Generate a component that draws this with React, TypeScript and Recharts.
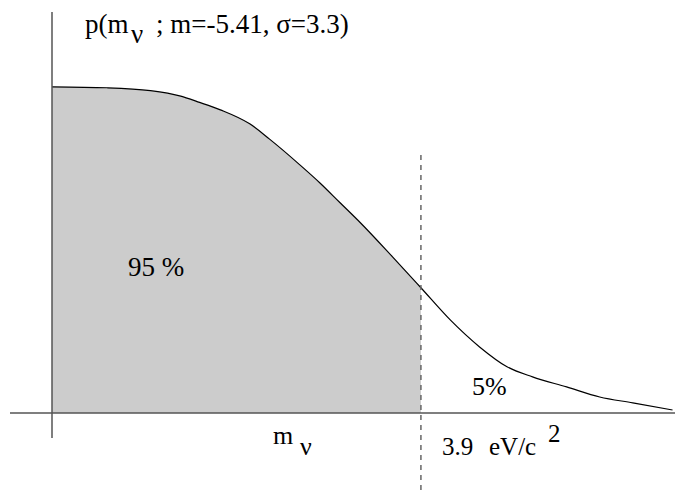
import { ComposedChart, Area, Line, XAxis, YAxis, ReferenceLine } from 'recharts';

// neutrino mass grid (eV/c^2) and the posterior density, normalised to the value at m = 0
const massValues = [0, 0.58, 1.04, 1.35, 1.56, 1.78, 2.09, 2.3, 2.62, 2.83, 3.04, 3.26, 3.6, 3.9, 4.21, 4.52, 4.81, 5.08, 5.44, 5.79, 6.14, 6.56];
const densityValues = [1.003, 1.0, 0.991, 0.975, 0.955, 0.932, 0.889, 0.842, 0.763, 0.708, 0.648, 0.585, 0.48, 0.385, 0.286, 0.203, 0.142, 0.111, 0.08, 0.049, 0.031, 0.009];

// 95% upper limit
const upperLimit = 3.9;

const xDomain = [-0.444, 6.586];
const yDomain = [-0.237, 1.233];

const data = massValues.map((m, i) => ({
  m,
  p: densityValues[i],
  shaded: m <= upperLimit ? densityValues[i] : null,
}));

const serif = '"Liberation Serif", "DejaVu Serif", serif';

// labels are placed by their baseline, so wrap each in a zero-height box
function Txt({ x, y, size, children }: { x: number; y: number; size: number; children: any }) {
  return (
    <div
      style={{
        position: 'absolute',
        left: x,
        top: y,
        height: 0,
        lineHeight: 0,
        fontSize: size,
        fontFamily: serif,
        whiteSpace: 'pre',
        color: '#000',
      }}
    >
      {children}
    </div>
  );
}

export default function App() {
  return (
    <div style={{ position: 'absolute', left: 0, top: 0, width: 675, height: 492, background: '#fff' }}>
      <ComposedChart
        width={675}
        height={492}
        data={data}
        margin={{ top: 12, right: 0, left: 10, bottom: 2 }}
      >
        <XAxis dataKey="m" type="number" domain={xDomain} hide allowDataOverflow />
        <YAxis type="number" domain={yDomain} hide allowDataOverflow />
        <Area
          type="monotone"
          dataKey="shaded"
          baseValue={0}
          stroke="none"
          fill="#cccccc"
          fillOpacity={1}
          isAnimationActive={false}
        />
        <Line
          type="monotone"
          dataKey="p"
          stroke="#000"
          strokeWidth={1.2}
          dot={false}
          activeDot={false}
          isAnimationActive={false}
        />
        {/* axes drawn as plain lines crossing at the origin */}
        <ReferenceLine y={0} stroke="#555" strokeWidth={1.5} />
        <ReferenceLine
          segment={[{ x: 0, y: -0.077 }, { x: 0, y: yDomain[1] }]}
          stroke="#555"
          strokeWidth={1.5}
        />
        <ReferenceLine
          segment={[{ x: upperLimit, y: yDomain[0] }, { x: upperLimit, y: 0.793 }]}
          stroke="#666"
          strokeWidth={1.5}
          strokeDasharray="5 5"
        />
      </ComposedChart>
      <Txt x={85} y={24} size={27}>p(m</Txt>
      <Txt x={131} y={34} size={27}>ν</Txt>
      <Txt x={156} y={24} size={27}>; m=-5.41, σ=3.3)</Txt>
      <Txt x={128} y={267} size={27}>95 %</Txt>
      <Txt x={472} y={387} size={26}>5%</Txt>
      <Txt x={273} y={436} size={26}>m</Txt>
      <Txt x={300} y={447} size={26}>ν</Txt>
      <Txt x={442} y={447} size={25}>3.9</Txt>
      <Txt x={489} y={447} size={25}>eV/c</Txt>
      <Txt x={548} y={434} size={25}>2</Txt>
    </div>
  );
}
